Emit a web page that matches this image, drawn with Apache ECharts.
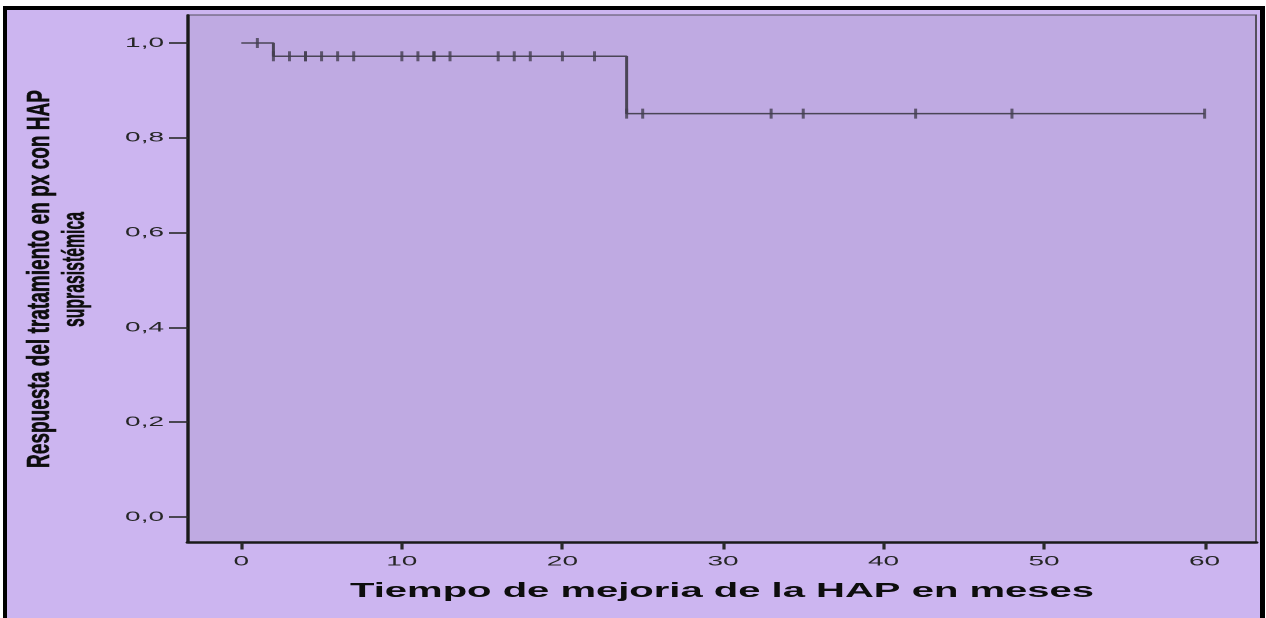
<!DOCTYPE html>
<html>
<head>
<meta charset="utf-8">
<script src="https://cdn.jsdelivr.net/npm/echarts@6/dist/echarts.min.js"></script>
<style>
  html, body { margin: 0; padding: 0; background: #ffffff; overflow: hidden; }
  /* The figure is drawn at half width and widened 2x, giving the broad lettering */
  #chart { width: 633px; height: 618px; transform: scaleX(2); transform-origin: 0 0; }
</style>
</head>
<body>
<div id="chart"></div>
<script>
// Kaplan-Meier step curve: survival holds until the next event time
const stepTimes = [0, 2, 24, 60];
const stepSurvival = [1.0, 0.972, 0.851, 0.851];

// Censored observations (tick marks on the curve)
const censorTimes = [1, 2, 3, 4, 4, 5, 6, 7, 10, 11, 12, 12, 13, 16, 17, 18, 20, 22,
                     24, 25, 33, 35, 42, 48, 60];
const censorSurvival = [1.0,
  0.972, 0.972, 0.972, 0.972, 0.972, 0.972, 0.972, 0.972, 0.972,
  0.972, 0.972, 0.972, 0.972, 0.972, 0.972, 0.972, 0.972,
  0.851, 0.851, 0.851, 0.851, 0.851, 0.851, 0.851];

const xTicks = [0, 10, 20, 30, 40, 50, 60];
const yTicks = [0, 0.2, 0.4, 0.6, 0.8, 1.0];

const xTitle = 'Tiempo de mejoria de la HAP en meses';
const yTitle1 = 'Respuesta del tratamiento en px con HAP';
const yTitle2 = 'suprasistémica';

const FONT = '"Liberation Sans", Arial, sans-serif';
const Y_TITLE_SIZE = 16;

// natural width of a string, used to stretch the rotated title lines to length
function textWidth(str) {
  const c = document.createElement('canvas').getContext('2d');
  c.font = 'bold ' + Y_TITLE_SIZE + 'px ' + FONT;
  return c.measureText(str).width;
}
const y1Scale = 378 / textWidth(yTitle1);
const y2Scale = 115 / textWidth(yTitle2);

function yTitleText(text, x, y, scale) {
  return {
    type: 'text', z: 50, x: x, y: y, rotation: Math.PI / 2, scaleX: scale,
    style: {
      text: text, fontFamily: FONT, fontWeight: 'bold', fontSize: Y_TITLE_SIZE,
      fill: '#0d0d0d', stroke: '#0d0d0d', lineWidth: 0.3,
      align: 'center', verticalAlign: 'middle',
      textAlign: 'center', textVerticalAlign: 'middle'
    }
  };
}

const chart = echarts.init(document.getElementById('chart'), null, { devicePixelRatio: 2 });

chart.setOption({
  backgroundColor: 'transparent',
  animation: false,
  grid: {
    left: 94, right: 5, top: 15, bottom: 75.5,
    show: true,
    backgroundColor: '#bfaae2',
    borderColor: '#55505e',
    borderWidth: 1
  },
  xAxis: {
    type: 'value',
    min: -3.32, max: 63.2,
    name: xTitle,
    nameLocation: 'middle',
    nameGap: 39,
    nameTextStyle: { fontFamily: FONT, fontWeight: 'bold', fontSize: 20, color: '#0d0d0d' },
    axisLine: { onZero: false, lineStyle: { color: '#1a1a1a', width: 2.5 } },
    axisTick: { show: true, length: 7, customValues: xTicks, lineStyle: { color: '#2a2a2a', width: 1.6 } },
    axisLabel: {
      customValues: xTicks,
      margin: 12,
      fontFamily: FONT, fontSize: 14, color: '#262626',
      formatter: v => String(v)
    },
    splitLine: { show: false }
  },
  yAxis: {
    type: 'value',
    min: -0.0538, max: 1.0591,
    axisLine: { onZero: false, lineStyle: { color: '#1a1a1a', width: 1.7 } },
    axisTick: { show: true, length: 9.5, customValues: yTicks, lineStyle: { color: '#2a2a2a', width: 1.6 } },
    axisLabel: {
      customValues: yTicks,
      margin: 12,
      fontFamily: FONT, fontSize: 14, color: '#262626',
      formatter: v => v.toFixed(1).replace('.', ',')
    },
    splitLine: { show: false }
  },
  graphic: [
    // lavender panel behind the whole figure
    { type: 'rect', z: -10, shape: { x: 3.5, y: 10, width: 626.5, height: 610 },
      style: { fill: '#ccb5f0' } },
    // black frame: top, left, right
    { type: 'rect', z: 100, shape: { x: 1.5, y: 6, width: 631, height: 4 }, style: { fill: '#000000' } },
    { type: 'rect', z: 100, shape: { x: 1.5, y: 6, width: 2, height: 615 }, style: { fill: '#000000' } },
    { type: 'rect', z: 100, shape: { x: 630, y: 6, width: 2.5, height: 615 }, style: { fill: '#000000' } },
    // two-line y axis title, read bottom to top
    yTitleText(yTitle1, 20, 279, y1Scale),
    yTitleText(yTitle2, 37.5, 269.5, y2Scale)
  ],
  series: [
    {
      type: 'line',
      step: 'end',
      data: stepTimes.map((t, i) => [t, stepSurvival[i]]),
      showSymbol: false,
      lineStyle: { color: '#4a4556', width: 1.5 },
      z: 3
    },
    {
      type: 'scatter',
      data: censorTimes.map((t, i) => [t, censorSurvival[i]]),
      symbol: 'rect',
      symbolSize: [1.5, 10],
      itemStyle: { color: '#443f50' },
      z: 4
    }
  ]
});
</script>
</body>
</html>
